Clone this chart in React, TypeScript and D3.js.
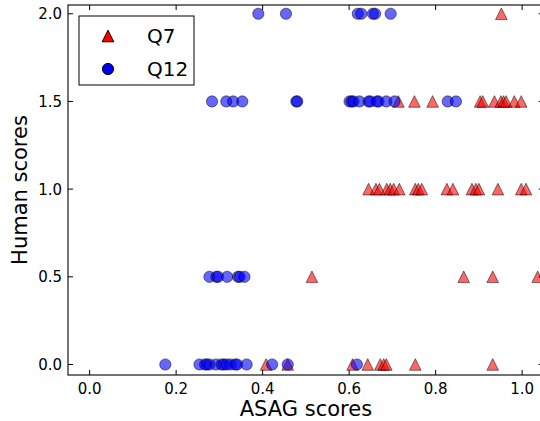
import React from "react";
import * as d3 from "d3";

const q7Asag = [
  0.952,
  0.714, 0.751, 0.793, 0.903, 0.909, 0.936, 0.951, 0.957, 0.963, 0.982, 0.998,
  0.645, 0.662, 0.670, 0.687, 0.695, 0.703, 0.716, 0.753, 0.760, 0.768, 0.826, 0.840, 0.884, 0.893, 0.900, 0.944, 0.998, 1.009,
  0.514, 0.865, 0.932, 1.036,
  0.408, 0.458, 0.608, 0.643, 0.672, 0.680, 0.686, 0.753, 0.932,
];
const q7Human = [
  2.0,
  1.5, 1.5, 1.5, 1.5, 1.5, 1.5, 1.5, 1.5, 1.5, 1.5, 1.5,
  1.0, 1.0, 1.0, 1.0, 1.0, 1.0, 1.0, 1.0, 1.0, 1.0, 1.0, 1.0, 1.0, 1.0, 1.0, 1.0, 1.0, 1.0,
  0.5, 0.5, 0.5, 0.5,
  0.0, 0.0, 0.0, 0.0, 0.0, 0.0, 0.0, 0.0, 0.0,
];
const q12Asag = [
  0.390, 0.454, 0.620, 0.628, 0.655, 0.660, 0.696,
  0.283, 0.316, 0.332, 0.353, 0.478, 0.480, 0.601, 0.606, 0.610, 0.624, 0.645, 0.649, 0.664, 0.668, 0.686, 0.705, 0.828, 0.847,
  0.277, 0.293, 0.297, 0.318, 0.343, 0.347, 0.358,
  0.175, 0.254, 0.267, 0.271, 0.277, 0.292, 0.305, 0.310, 0.317, 0.326, 0.337, 0.341, 0.363, 0.422, 0.458, 0.618,
];
const q12Human = [
  2.0, 2.0, 2.0, 2.0, 2.0, 2.0, 2.0,
  1.5, 1.5, 1.5, 1.5, 1.5, 1.5, 1.5, 1.5, 1.5, 1.5, 1.5, 1.5, 1.5, 1.5, 1.5, 1.5, 1.5, 1.5,
  0.5, 0.5, 0.5, 0.5, 0.5, 0.5, 0.5,
  0.0, 0.0, 0.0, 0.0, 0.0, 0.0, 0.0, 0.0, 0.0, 0.0, 0.0, 0.0, 0.0, 0.0, 0.0, 0.0,
];
const xTicks = [0.0, 0.2, 0.4, 0.6, 0.8, 1.0];
const yTicks = [0.0, 0.5, 1.0, 1.5, 2.0];
const seriesNames = ["Q7", "Q12"];

const W = 540;
const H = 421;
const left = 68, right = 543.75, top = 5, bottom = 375;
const FONT = "DejaVu Sans, sans-serif";

export default function App() {
  const x = d3.scaleLinear().domain([-0.05, 1.05]).range([left, right]);
  const y = d3.scaleLinear().domain([-0.06, 2.05]).range([bottom, top]);
  const triPath = (cx: number, cy: number, s = 5.8) =>
    `M${cx},${cy - s}L${cx + s},${cy + s}L${cx - s},${cy + s}Z`;
  const tickLen = 5;
  return (
    <svg width={W} height={H} style={{ position: "absolute", left: 0, top: 0, background: "#fff" }}>
      <rect x={0} y={0} width={W} height={H} fill="#fff" />
      <g>
        {q7Asag.map((v, i) => (
          <path key={"t" + i} d={triPath(x(v), y(q7Human[i]))} fill="#ff0000" fillOpacity={0.6}
            stroke="#000" strokeOpacity={0.5} strokeWidth={1} />
        ))}
      </g>
      <g>
        {q12Asag.map((v, i) => (
          <circle key={"c" + i} cx={x(v)} cy={y(q12Human[i])} r={5.6} fill="#0000ff" fillOpacity={0.6}
            stroke="#000" strokeOpacity={0.5} strokeWidth={1} />
        ))}
      </g>
      <rect x={left} y={top} width={right - left} height={bottom - top} fill="none" stroke="#000" strokeWidth={1.1} />
      {xTicks.map((t) => (
        <g key={"xt" + t}>
          <line x1={x(t)} x2={x(t)} y1={bottom} y2={bottom - tickLen} stroke="#000" />
          <line x1={x(t)} x2={x(t)} y1={top} y2={top + tickLen} stroke="#000" />
          <text x={x(t)} y={bottom + 19} textAnchor="middle" fontFamily={FONT} fontSize={15}>{t.toFixed(1)}</text>
        </g>
      ))}
      {yTicks.map((t) => (
        <g key={"yt" + t}>
          <line x1={left} x2={left + tickLen} y1={y(t)} y2={y(t)} stroke="#000" />
          <line x1={right} x2={right - tickLen} y1={y(t)} y2={y(t)} stroke="#000" />
          <text x={left - 6} y={y(t)} dy="0.36em" textAnchor="end" fontFamily={FONT} fontSize={15}>{t.toFixed(1)}</text>
        </g>
      ))}
      <text x={(left + right) / 2} y={416} textAnchor="middle" fontFamily={FONT} fontSize={21}>ASAG scores</text>
      <text transform={`translate(27,${(top + bottom) / 2}) rotate(-90)`} textAnchor="middle" fontFamily={FONT} fontSize={21}>Human scores</text>
      <g>
        <rect x={79} y={16} width={115} height={69} fill="#fff" stroke="#000" strokeWidth={1} />
        <path d={triPath(108, 36, 5.8)} fill="#ff0000" stroke="#000" strokeWidth={1} />
        <circle cx={108} cy={69} r={5.6} fill="#0000ff" stroke="#000" strokeWidth={1} />
        <text x={147} y={43} fontFamily={FONT} fontSize={20}>{seriesNames[0]}</text>
        <text x={147} y={76} fontFamily={FONT} fontSize={20}>{seriesNames[1]}</text>
      </g>
    </svg>
  );
}
